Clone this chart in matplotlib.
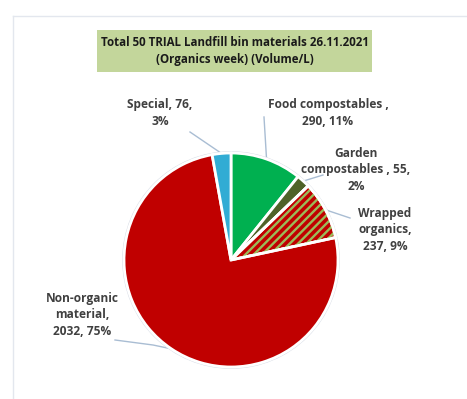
import numpy as np
import matplotlib
matplotlib.use("Agg")
import matplotlib.pyplot as plt
from matplotlib.patches import Wedge, Rectangle

# Landfill bin materials, volume in litres
categories = ["Food compostables ,", "Garden\ncompostables ,", "Wrapped\norganics,",
              "Non-organic\nmaterial,", "Special,"]
volumes = [290, 55, 237, 2032, 76]
percent_labels = ["11%", "2%", "9%", "75%", "3%"]
colors = ["#00b050", "#4f6228", "#c00000", "#c00000", "#31acd4"]

title_lines = ["Total 50 TRIAL Landfill bin materials 26.11.2021",
               "(Organics week) (Volume/L)"]

plt.rcParams["hatch.linewidth"] = 1.2

W, H = 467, 399
fig = plt.figure(figsize=(W / 100, H / 100), dpi=100)
fig.patch.set_facecolor("white")

# overlay axes in pixel units for title box, labels and leader lines
ov = fig.add_axes([0, 0, 1, 1])
ov.set_xlim(0, W)
ov.set_ylim(H, 0)
ov.axis("off")

# pie axes (radius r pixels, limits padded by 2%)
cx, cy, r = 231, 260, 107
pad = 1.02
half = r * pad
ax = fig.add_axes([(cx - half) / W, (H - cy - half) / H, 2 * half / W, 2 * half / H])
wedges, _ = ax.pie(volumes, colors=colors, startangle=90, counterclock=False,
                   wedgeprops=dict(edgecolor="white", linewidth=2))
ax.set_xlim(-pad, pad)
ax.set_ylim(-pad, pad)
ax.set_aspect("equal")

# striped fill for wrapped organics
w = wedges[2]
hatch = Wedge(w.center, w.r, w.theta1, w.theta2, facecolor="none",
              edgecolor="#9bbb59", hatch="////", linewidth=1, zorder=3)
if hasattr(hatch, "set_hatch_linewidth"):
    hatch.set_hatch_linewidth(1.7)
ax.add_patch(hatch)
outline = Wedge(w.center, w.r, w.theta1, w.theta2, facecolor="none",
                edgecolor="white", linewidth=2, zorder=4)
ax.add_patch(outline)

# faint outer ring
ax.add_patch(plt.Circle((0, 0), 1.012, fill=False, edgecolor="#d8dde6",
                        linewidth=0.8, zorder=0))

# chart frame
ov.plot([13, 13], [16, H], color="#e3e7ee", lw=1)
ov.plot([13, W], [16, 16], color="#e3e7ee", lw=1)

# title box
ov.add_patch(Rectangle((97, 30), 275, 42, facecolor="#c3d69b", edgecolor="none"))
font = dict(family=["Open Sans", "DejaVu Sans"], fontweight="bold")
ov.text(235, 42, title_lines[0], ha="center", va="center", fontsize=8.3,
        color="#1a1a1a", **font)
ov.text(235, 60, title_lines[1], ha="center", va="center", fontsize=8.3,
        color="#1a1a1a", **font)

# data labels
label_pos = [(328, 113), (356, 170), (385, 230), (82, 315), (160, 113)]
for i, (name, v, p) in enumerate(zip(categories, volumes, percent_labels)):
    if i in (1, 4):
        s = f"{name} {v},\n{p}"
    else:
        s = f"{name}\n{v}, {p}"
    ov.text(label_pos[i][0], label_pos[i][1], s, ha="center", va="center",
            fontsize=8.6, color="#404040", linespacing=1.32, **font)

# leader lines from wedge mid-angles to labels
line_ends = [[(264, 117)], [(323, 175)], [(350, 218)], [(153, 345), (115, 340)],
             [(190, 132)]]
lc = "#a9bdd3"
for wd, ends in zip(wedges, line_ends):
    mid = np.deg2rad((wd.theta1 + wd.theta2) / 2)
    px = cx + r * np.cos(mid)
    py = cy - r * np.sin(mid)
    pts = [(px, py)] + ends
    ov.plot([p[0] for p in pts], [p[1] for p in pts], color=lc, lw=1, zorder=5)

fig.savefig("out.png", dpi=100, facecolor="white")
